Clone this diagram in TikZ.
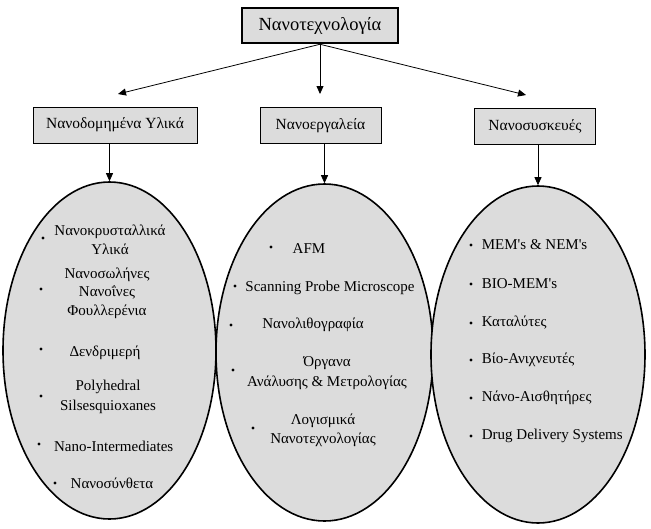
\documentclass[tikz,border=0pt]{standalone}
\usepackage{fontspec}
\setmainfont{Liberation Serif}
\usepackage{xcolor}
\usetikzlibrary{shapes.geometric, arrows.meta, positioning}
\definecolor{boxgray}{RGB}{220,220,220}

\begin{document}
\begin{tikzpicture}[
    x=1pt, y=-1pt,
    % Node styles
    topbox/.style={rectangle, draw, line width=2.5pt, fill=boxgray, minimum width=156pt, minimum height=35pt, font=\fontsize{18.5}{22}\selectfont},
    catbox/.style={rectangle, draw, line width=0.8pt, fill=boxgray, minimum height=36pt, font=\fontsize{15.5}{18}\selectfont},
    oval/.style={ellipse, draw, line width=1.6pt, fill=boxgray, inner sep=0pt, minimum height=337pt},
    item/.style={font=\fontsize{15}{19}\selectfont, align=center, inner sep=0pt},
    dot/.style={circle, fill=black, inner sep=0pt, minimum size=3.4pt},
    arrow/.style={-{Triangle[length=8pt, width=7pt]}, line width=0.8pt},
]
\fill[white] (0,0) rectangle (651,528);
\useasboundingbox (0,0) rectangle (651,528);

% ============================================================================
% TOP LEVEL
% ============================================================================
\node[topbox] (nano) at (320,25.5) {Νανοτεχνολογία};

% Category boxes
\node[catbox, minimum width=164pt] (mat) at (115,125) {Νανοδομημένα Υλικά};
\node[catbox, minimum width=121pt] (tools) at (320.5,125.5) {Νανοεργαλεία};
\node[catbox, minimum width=121pt] (dev) at (535,126.5) {Νανοσυσκευές};

% Arrow tips above the boxes
\coordinate (tipmat) at (118,94);
\coordinate (tiptools) at (nano.south |- tipmat);
\coordinate (tipdev) at (526,95);

\draw[arrow] (nano.south) -- (tipmat);
\draw[arrow] (nano.south) -- (tiptools);
\draw[arrow] (nano.south) -- (tipdev);

% ============================================================================
% ELLIPSES
% ============================================================================
\node[oval, minimum width=213pt] (ovmat) at (109.5,350.5) {};
\node[oval, minimum width=217pt] (ovtools) at (324.5,352.5) {};
\node[oval, minimum width=214pt] (ovdev) at (538,354.5) {};

\draw[arrow] (ovmat.north |- mat.south) -- (ovmat.north);
\draw[arrow] (ovtools.north |- tools.south) -- (ovtools.north);
\draw[arrow] (ovdev.north |- dev.south) -- (ovdev.north);

% Nanostructured materials
\node[item] (m1) at (110,239.5) {Νανοκρυσταλλικά\\Υλικά};
\node[item, font=\fontsize{15}{18.5}\selectfont] (m2) at (107,293) {Νανοσωλήνες\\Νανοΐνες\\Φουλλερένια};
\node[item] (m3) at (105,353) {Δενδριμερή};
\node[item, font=\fontsize{15}{20}\selectfont] (m4) at (108,397) {Polyhedral\\Silsesquioxanes};
\node[item] (m5) at (113.7,446) {Nano-Intermediates};
\node[item] (m6) at (112,483) {Νανοσύνθετα};
\foreach \pos [count=\i] in {(43,238), (41,289), (41,349), (41,396), (39,444), (55,483)} {
    \node[dot] (mb\i) at \pos {};
}

% Nanotools
\node[item] (t1) at (309,249) {AFM};
\node[item] (t2) at (330,288) {Scanning Probe Microscope};
\node[item] (t3) at (313,325) {Νανολιθογραφία};
\node[item, font=\fontsize{15}{20}\selectfont] (t4) at (327,373) {Όργανα\\Ανάλυσης \& Μετρολογίας};
\node[item] (t5) at (323,430.5) {Λογισμικά\\Νανοτεχνολογίας};
\foreach \pos [count=\i] in {(271,247), (235,286), (231,325), (233,370), (253,428)} {
    \node[dot] (tb\i) at \pos {};
}

% Nanodevices
\foreach \y/\txt [count=\i] in {245/{MEM\textquotesingle s \& NEM\textquotesingle s}, 284/{BIO-MEM\textquotesingle s}, 323/{Καταλύτες}, 360/{Βίο-Ανιχνευτές}, 398/{Νάνο-Αισθητήρες}, 436/{Drug Delivery Systems}} {
    \node[dot] (db\i) at (471,\y) {};
    \node[item, anchor=west] (d\i) at (481.7,\y) {\txt};
}

\end{tikzpicture}
\end{document}
